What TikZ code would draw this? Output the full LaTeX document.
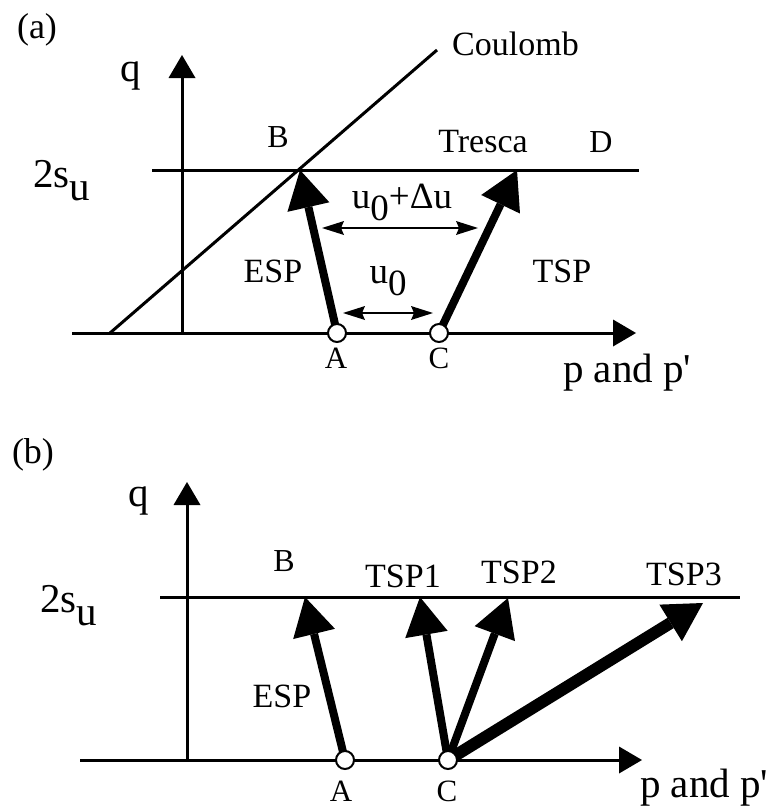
\documentclass[tikz,border=0pt]{standalone}
\usepackage{fontspec}
\setmainfont{Liberation Serif}
\usetikzlibrary{arrows.meta}
\newcommand{\lowsub}[1]{\raisebox{-0.33em}{#1}}
\tikzset{
  every node/.append style={inner sep=0pt},
  axisarrow/.style={line width=3pt, -{Triangle[length=23pt,width=27pt,line width=0pt]}},
  envelope/.style={line width=3pt},
  spath/.style={line width=8pt, -{Triangle[length=38pt,width=43pt,line width=0pt]}},
  udist/.style={line width=2.2pt, {Stealth[length=22pt,width=14pt,inset=3pt,line width=0pt]}-{Stealth[length=22pt,width=14pt,inset=3pt,line width=0pt]}},
  stress/.style={circle, draw, fill=white, line width=2pt, minimum size=18pt},
  tag/.style={font=\fontsize{36}{42}\selectfont},
  axlbl/.style={font=\fontsize{41}{48}\selectfont},
  lbl/.style={anchor=base, font=\fontsize{34}{40}\selectfont},
  ptlbl/.style={anchor=base, font=\fontsize{32}{38}\selectfont},
}

\begin{document}
\begin{tikzpicture}[x=1pt, y=-1pt]
    \useasboundingbox (0,0) rectangle (778,811);

    % ---------------- (a) ----------------
    \coordinate (oa) at (182,333);
    \coordinate (qa) at (182,55);
    \coordinate (pa0) at (72,333);
    \coordinate (pa) at (636,333);
    \coordinate (tra0) at (152,170);
    \coordinate (tra) at (639,170);
    \coordinate (coa0) at (110,333);
    \coordinate (coa) at (437,50);
    \coordinate (Aa) at (337,333);
    \coordinate (Ca) at (439,333);
    \coordinate (Ba) at (300,170);
    \coordinate (Ta) at (517,170);

    % axes and failure lines
    \draw[axisarrow] (oa) -- (qa);
    \draw[axisarrow] (pa0) -- (pa);
    \draw[envelope] (tra0) -- (tra);
    \draw[envelope] (coa0) -- (coa);

    % stress paths
    \draw[spath] (Aa) -- (Ba);
    \draw[spath] (Ca) -- (Ta);
    \node[stress] (cAa) at (Aa) {};
    \node[stress] (cCa) at (Ca) {};

    % pore pressures
    \coordinate (du1) at (322,228);
    \coordinate (du2) at (478,228);
    \coordinate (u1) at (343,313);
    \coordinate (u2) at (433,313);
    \draw[udist] (du1) -- (du2);
    \draw[udist] (u1) -- (u2);

    % labels
    \node[tag] (taga) at (37,30) {(a)};
    \node[axlbl] (qlbla) at (131,76) {q};
    \node[axlbl, anchor=base west] (sua) at (33,187) {2s\lowsub{u}};
    \node[axlbl, anchor=base west] (plbla) at (563,382) {p and p\textquotesingle};
    \node[lbl, anchor=base west] (coul) at (452,55) {Coulomb};
    \node[lbl] (tres) at (483,152) {Tresca};
    \node[ptlbl] (Dlbl) at (601,152) {D};
    \node[ptlbl] (Blbla) at (278,147) {B};
    \node[ptlbl, font=\fontsize{31}{36}\selectfont] (Albla) at (336,368) {A};
    \node[ptlbl, font=\fontsize{31}{36}\selectfont] (Clbla) at (439,368) {C};
    \node[lbl] (espa) at (273,282) {ESP};
    \node[lbl] (tspa) at (562,282) {TSP};
    \node[lbl, font=\fontsize{37}{44}\selectfont] (dulbl) at (402,208) {u\lowsub{0}+Δu};
    \node[lbl, font=\fontsize{37}{44}\selectfont] (ulbl) at (388,283) {u\lowsub{0}};

    % ---------------- (b) ----------------
    \coordinate (ob) at (187,760);
    \coordinate (qb) at (187,482);
    \coordinate (pb0) at (80,760);
    \coordinate (pb) at (642,760);
    \coordinate (trb0) at (160,597);
    \coordinate (trb) at (740,597);
    \coordinate (Ab) at (345,760);
    \coordinate (Cb) at (448,760);
    \coordinate (Bb) at (305,597);
    \coordinate (T1) at (420,597);
    \coordinate (T2) at (508,598);
    \coordinate (T3) at (703,603);

    % axes and failure line
    \draw[axisarrow] (ob) -- (qb);
    \draw[axisarrow] (pb0) -- (pb);
    \draw[envelope] (trb0) -- (trb);

    % stress paths
    \draw[spath] (Ab) -- (Bb);
    \draw[spath] (Cb) -- (T1);
    \draw[spath] (Cb) -- (T2);
    \draw[spath, line width=12pt] (Cb) -- (T3);
    \node[stress] (cAb) at (Ab) {};
    \node[stress] (cCb) at (Cb) {};

    % labels
    \node[tag] (tagb) at (33,455) {(b)};
    \node[axlbl] (qlblb) at (139,501) {q};
    \node[axlbl, anchor=base west] (sub) at (40,612) {2s\lowsub{u}};
    \node[axlbl, anchor=base west] (plblb) at (640,797) {p and p\textquotesingle};
    \node[ptlbl] (Blblb) at (284,571) {B};
    \node[ptlbl, font=\fontsize{31}{36}\selectfont] (Alblb) at (341,801) {A};
    \node[ptlbl, font=\fontsize{31}{36}\selectfont] (Clblb) at (447,801) {C};
    \node[lbl] (espb) at (282,707) {ESP};
    \node[lbl] (tsp1) at (403,587) {TSP1};
    \node[lbl] (tsp2) at (519,583) {TSP2};
    \node[lbl] (tsp3) at (684,585) {TSP3};
\end{tikzpicture}
\end{document}
